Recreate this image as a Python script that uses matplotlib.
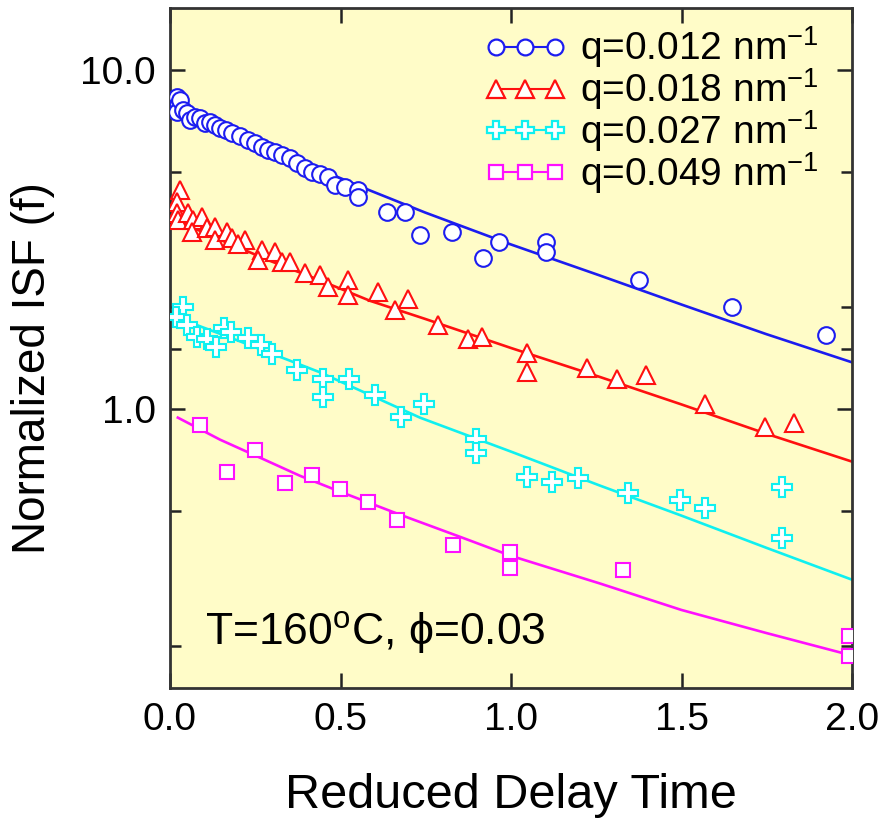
import matplotlib
matplotlib.use("Agg")
from matplotlib import pyplot as plt
from matplotlib.lines import Line2D
from matplotlib.ticker import FixedLocator, NullFormatter, FormatStrFormatter

plt.rcParams['font.family'] = ['Liberation Sans', 'DejaVu Sans']
plt.rcParams['mathtext.fontset'] = 'custom'
plt.rcParams['mathtext.rm'] = 'Liberation Sans'
plt.rcParams['mathtext.it'] = 'Liberation Sans:italic'

# q = 0.012 nm^-1 (blue circles)
x_q012 = [0.021, 0.023, 0.021, 0.029, 0.038, 0.050, 0.059, 0.073, 0.088, 0.103, 0.117, 0.132,
          0.147, 0.164, 0.182, 0.205, 0.229, 0.249, 0.270, 0.287, 0.308, 0.328, 0.352, 0.372,
          0.396, 0.416, 0.440, 0.463, 0.484, 0.513, 0.551, 0.551, 0.636, 0.689, 0.733, 0.827,
          0.918, 0.965, 1.103, 1.103, 1.375, 1.648, 1.924]
y_q012 = [8.33, 7.88, 7.52, 8.16, 7.62, 7.47, 7.12, 7.27, 7.22, 6.98, 7.02, 6.88,
          6.75, 6.65, 6.52, 6.39, 6.22, 6.09, 5.93, 5.81, 5.73, 5.61, 5.50, 5.32,
          5.14, 5.00, 4.93, 4.83, 4.58, 4.52, 4.43, 4.22, 3.81, 3.81, 3.26, 3.33,
          2.79, 3.11, 3.11, 2.90, 2.40, 2.00, 1.65]

# q = 0.018 nm^-1 (red triangles)
x_q018 = [0.029, 0.021, 0.021, 0.023, 0.053, 0.067, 0.094, 0.065, 0.109, 0.132, 0.132, 0.167,
          0.182, 0.220, 0.199, 0.270, 0.258, 0.308, 0.328, 0.352, 0.396, 0.440, 0.463, 0.522,
          0.522, 0.610, 0.660, 0.698, 0.786, 0.874, 0.915, 1.047, 1.047, 1.223, 1.311, 1.396,
          1.569, 1.745, 1.830]
y_q018 = [4.43, 4.08, 3.79, 3.61, 3.79, 3.61, 3.68, 3.33, 3.42, 3.44, 3.15, 3.31,
          3.19, 3.15, 3.05, 2.94, 2.75, 2.89, 2.70, 2.71, 2.52, 2.48, 2.29, 2.40,
          2.17, 2.21, 1.96, 2.10, 1.77, 1.60, 1.63, 1.46, 1.28, 1.32, 1.22, 1.26,
          1.03, 0.885, 0.909]

# q = 0.027 nm^-1 (cyan crosses)
x_q027 = [0.038, 0.018, 0.050, 0.079, 0.109, 0.135, 0.158, 0.179, 0.229, 0.267, 0.299, 0.372,
          0.449, 0.449, 0.525, 0.601, 0.677, 0.745, 0.897, 0.897, 1.047, 1.120, 1.196, 1.343,
          1.496, 1.569, 1.795, 1.795]
y_q027 = [2.00, 1.86, 1.77, 1.63, 1.60, 1.52, 1.73, 1.68, 1.62, 1.54, 1.45, 1.30,
          1.22, 1.085, 1.22, 1.10, 0.947, 1.03, 0.816, 0.742, 0.630, 0.609, 0.626, 0.565,
          0.539, 0.511, 0.589, 0.416]

# q = 0.049 nm^-1 (magenta squares)
x_q049 = [0.088, 0.167, 0.249, 0.337, 0.416, 0.499, 0.581, 0.666, 0.830, 0.997, 0.997, 1.328,
          1.99, 1.99]
y_q049 = [0.897, 0.652, 0.757, 0.605, 0.639, 0.581, 0.532, 0.471, 0.397, 0.379, 0.340, 0.335,
          0.213, 0.186]

# fitted curves
fit_x_q012 = [0.0, 0.147, 0.293, 0.440, 0.587, 0.748, 1.0, 1.261, 1.499, 1.748, 2.0]
fit_y_q012 = [7.94, 6.79, 5.85, 5.07, 4.40, 3.79, 3.05, 2.47, 2.03, 1.66, 1.37]
fit_x_q018 = [0.0, 0.147, 0.293, 0.440, 0.587, 0.748, 1.0, 1.261, 1.499, 1.748, 2.0]
fit_y_q018 = [3.66, 3.15, 2.73, 2.39, 2.08, 1.84, 1.51, 1.24, 1.03, 0.844, 0.698]
fit_x_q027 = [0.0, 0.205, 0.440, 0.733, 1.0, 1.261, 1.499, 1.748, 2.0]
fit_y_q027 = [1.89, 1.58, 1.28, 0.941, 0.747, 0.593, 0.484, 0.389, 0.313]
fit_x_q049 = [0.023, 0.147, 0.264, 0.381, 0.499, 0.674, 0.850, 1.0, 1.261, 1.499, 1.748, 2.0]
fit_y_q049 = [0.941, 0.810, 0.717, 0.634, 0.569, 0.487, 0.419, 0.368, 0.305, 0.255, 0.218, 0.187]

labels = [r'q=0.012 nm$^{-1}$', r'q=0.018 nm$^{-1}$', r'q=0.027 nm$^{-1}$', r'q=0.049 nm$^{-1}$']
colors = ['#1c1cf0', '#ff1010', '#10f0f0', '#ff10ff']
markers = ['o', '^', 'P', 's']
msizes = [12, 13, 14, 10]

series = [(x_q012, y_q012, fit_x_q012, fit_y_q012),
          (x_q018, y_q018, fit_x_q018, fit_y_q018),
          (x_q027, y_q027, fit_x_q027, fit_y_q027),
          (x_q049, y_q049, fit_x_q049, fit_y_q049)]

fig = plt.figure(figsize=(8.84, 8.18), dpi=100)
ax = fig.add_axes([170 / 884, 1 - 688 / 818, 682 / 884, 680 / 818])
ax.set_facecolor('#fffcc8')

handles = []
for i in range(4):
    xs, ys, fx, fy = series[i]
    ax.plot(fx, fy, '-', color=colors[i], lw=1.9, zorder=2)
    ax.plot(xs, ys, linestyle='none', marker=markers[i], ms=msizes[i], mfc='white',
            mec=colors[i], mew=1.5, zorder=3)
    handles.append(Line2D([0], [0], color=colors[i], lw=1.5, marker=markers[i],
                          ms=msizes[i] * 0.95, mfc='white', mec=colors[i], mew=1.6))

ax.set_yscale('log')
ax.set_xlim(0, 2.0)
ax.set_ylim(0.15, 15.2)

ax.xaxis.set_major_locator(FixedLocator([0.0, 0.5, 1.0, 1.5, 2.0]))
ax.xaxis.set_major_formatter(FormatStrFormatter('%.1f'))
ax.yaxis.set_major_locator(FixedLocator([1.0, 10.0]))
ax.yaxis.set_major_formatter(FormatStrFormatter('%.1f'))
ax.yaxis.set_minor_locator(FixedLocator([0.2, 0.5, 1.5, 2.0, 5.0]))
ax.yaxis.set_minor_formatter(NullFormatter())

ax.tick_params(which='both', direction='in', top=True, right=True, width=1.8,
               color='#222222', labelsize=28, pad=10)
ax.tick_params(which='major', length=11)
ax.tick_params(which='minor', length=8)
for s in ax.spines.values():
    s.set_linewidth(2.0)
    s.set_color('#333333')

ax.set_xlabel('Reduced Delay Time', fontsize=35, labelpad=25)
ax.set_ylabel('Normalized ISF (f)', fontsize=33)
ax.yaxis.set_label_coords(-0.168, 0.47)

ax.text(0.052, 0.063, 'T=160$^{\\mathrm{o}}$C, \u03d5=0.03', transform=ax.transAxes,
        fontsize=32, va='baseline', ha='left')

ax.legend(handles, labels, loc='upper right', bbox_to_anchor=(0.985, 1.01), frameon=False,
          numpoints=3, handlelength=2.1, handletextpad=0.35, labelspacing=-0.1,
          fontsize=28, borderaxespad=0.2)

fig.savefig('out.png', dpi=100, facecolor='white')
